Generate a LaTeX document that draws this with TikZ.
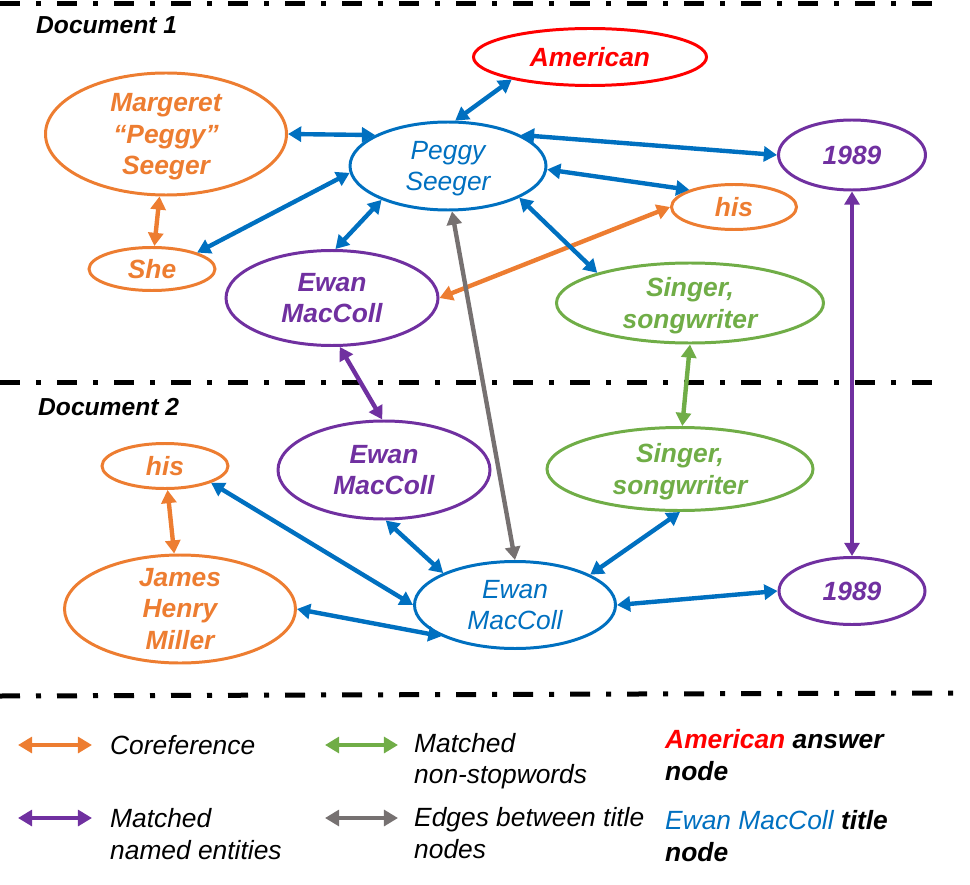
\documentclass[tikz,border=0pt]{standalone}
\usepackage{fontspec}
\setmainfont{Liberation Sans}
\usepackage{xcolor}
\definecolor{myblue}{HTML}{0070C0}
\definecolor{myorange}{HTML}{ED7D31}
\definecolor{mypurple}{HTML}{7030A0}
\definecolor{mygreen}{HTML}{70AD47}
\definecolor{mygray}{HTML}{767171}
\definecolor{myred}{HTML}{FF0000}
\usetikzlibrary{arrows.meta, shapes.geometric}

\begin{document}
\begin{tikzpicture}[
  ent/.style={ellipse, draw=#1, line width=1.7pt, text=#1, inner sep=0pt,
    align=center, font=\fontsize{15}{18}\selectfont\bfseries\itshape},
  titlenode/.style={ent=#1, font=\fontsize{15}{18}\selectfont\itshape},
  link/.style={draw=#1, line width=2.5pt,
    {Triangle[length=7.5pt,width=8.5pt]}-{Triangle[length=7.5pt,width=8.5pt]}},
  legarrow/.style={draw=#1, line width=2.8pt,
    {Triangle[length=8pt,width=9pt]}-{Triangle[length=8pt,width=9pt]}},
  doclabel/.style={anchor=west, font=\fontsize{14}{17}\selectfont\bfseries\itshape},
  legtext/.style={anchor=west, align=left, font=\fontsize{15}{18}\selectfont\itshape},
  sepline/.style={line width=0.1cm, dash pattern=on 0.4cm off 0.32cm on 0.1cm off 0.32cm}
]
  \useasboundingbox (0,0) rectangle (19.4,-17.7);

  % separators
  \draw[sepline] (0,-0.08) -- (18.7,-0.08);
  \draw[sepline] (0,-7.64) -- (18.7,-7.64);
  \draw[sepline] (0,-13.92) -- (19.1,-13.86);

  \node[doclabel] (doc1) at (0.6,-0.5) {Document 1};
  \node[doclabel] (doc2) at (0.64,-8.14) {Document 2};

  % document 1
  \node[ent=myred, minimum width=4.66cm, minimum height=1.14cm]
    (american) at (11.8,-1.14) {American};
  \node[ent=myorange, minimum width=4.82cm, minimum height=2.44cm, inner ysep=-0.3cm, text depth=0pt]
    (margaret) at (3.32,-2.68) {Margeret\\``Peggy''\\Seeger};
  \node[titlenode=myblue, minimum width=3.92cm, minimum height=1.76cm, text depth=0pt]
    (peggy) at (8.96,-3.32) {Peggy\\Seeger};
  \node[ent=mypurple, minimum width=2.94cm, minimum height=1.4cm]
    (yearA) at (17.04,-3.1) {1989};
  \node[ent=myorange, minimum width=2.5cm, minimum height=0.9cm]
    (hisA) at (14.68,-4.14) {his};
  \node[ent=myorange, minimum width=2.52cm, minimum height=0.86cm]
    (she) at (3.04,-5.38) {She};
  \node[ent=mypurple, minimum width=4.24cm, minimum height=1.9cm]
    (ewanA) at (6.64,-5.96) {Ewan\\MacColl};
  \node[ent=mygreen, minimum width=5.34cm, minimum height=1.6cm, text depth=0pt]
    (singerA) at (13.8,-6.06) {Singer,\\songwriter};

  % document 2
  \node[ent=myorange, minimum width=2.52cm, minimum height=0.9cm]
    (hisB) at (3.3,-9.32) {his};
  \node[ent=mypurple, minimum width=4.24cm, minimum height=1.96cm]
    (ewanB) at (7.68,-9.4) {Ewan\\MacColl};
  \node[ent=mygreen, minimum width=5.32cm, minimum height=1.66cm, text depth=0pt]
    (singerB) at (13.6,-9.38) {Singer,\\songwriter};
  \node[ent=myorange, minimum width=4.62cm, minimum height=2.16cm, inner ysep=-0.3cm]
    (james) at (3.6,-12.18) {James\\Henry\\Miller};
  \node[titlenode=myblue, minimum width=4.02cm, minimum height=1.74cm]
    (ewanT) at (10.3,-12.1) {Ewan\\MacColl};
  \node[ent=mypurple, minimum width=2.92cm, minimum height=1.34cm]
    (yearB) at (17.04,-11.82) {1989};

  % edges
  \draw[link=myorange] (margaret) -- (she);
  \draw[link=myorange] (ewanA.0) -- (hisA.180);
  \draw[link=myorange] (hisB) -- (james);
  \draw[link=mygray] (peggy.275) -- (ewanT.90);
  \draw[link=myblue] (peggy.81) -- (american.196);
  \draw[link=myblue] (peggy.157) -- (margaret.0);
  \draw[link=myblue] (peggy.23) -- (yearA.180);
  \draw[link=myblue] (peggy.358) -- (hisA.159);
  \draw[link=myblue] (peggy.184) -- (she.20);
  \draw[link=myblue] (peggy.207) -- (ewanA.86);
  \draw[link=myblue] (peggy.336) -- (singerA.162);
  \draw[link=mypurple] (ewanA.279) -- (ewanB.92);
  \draw[link=mypurple] (yearA) -- (yearB);
  \draw[link=mygreen] (singerA.270) -- (singerB.87);
  \draw[link=myblue] (hisB.340) -- (ewanT.180);
  \draw[link=myblue] (ewanB.272) -- (ewanT.156);
  \draw[link=myblue] (singerB.270) -- (ewanT.22);
  \draw[link=myblue] (ewanT.0) -- (yearB.180);
  \draw[link=myblue] (ewanT.203) -- (james.0);

  % legend
  \coordinate (corefL) at (0.36,-14.9);
  \coordinate (corefR) at (1.84,-14.9);
  \coordinate (matchL) at (6.5,-14.9);
  \coordinate (matchR) at (7.96,-14.9);
  \coordinate (namedL) at (0.36,-16.36);
  \coordinate (namedR) at (1.84,-16.36);
  \coordinate (titleL) at (6.5,-16.36);
  \coordinate (titleR) at (7.96,-16.36);
  \draw[legarrow=myorange] (corefL) -- (corefR);
  \draw[legarrow=mygreen] (matchL) -- (matchR);
  \draw[legarrow=mypurple] (namedL) -- (namedR);
  \draw[legarrow=mygray] (titleL) -- (titleR);

  \node[legtext] (coref) at (2.08,-14.9) {Coreference};
  \node[legtext] (nonstop) at (8.16,-15.22) {Matched\\non-stopwords};
  \node[legtext] (named) at (2.08,-16.68) {Matched\\named entities};
  \node[legtext] (between) at (8.16,-16.66) {Edges between title\\nodes};
  \node[legtext, font=\fontsize{15}{18}\selectfont\bfseries\itshape]
    (answerkey) at (13.18,-15.1) {\textcolor{myred}{American} answer\\node};
  \node[legtext] (titlekey) at (13.18,-16.72)
    {\textcolor{myblue}{Ewan MacColl} \textbf{title}\\\textbf{node}};
\end{tikzpicture}
\end{document}
